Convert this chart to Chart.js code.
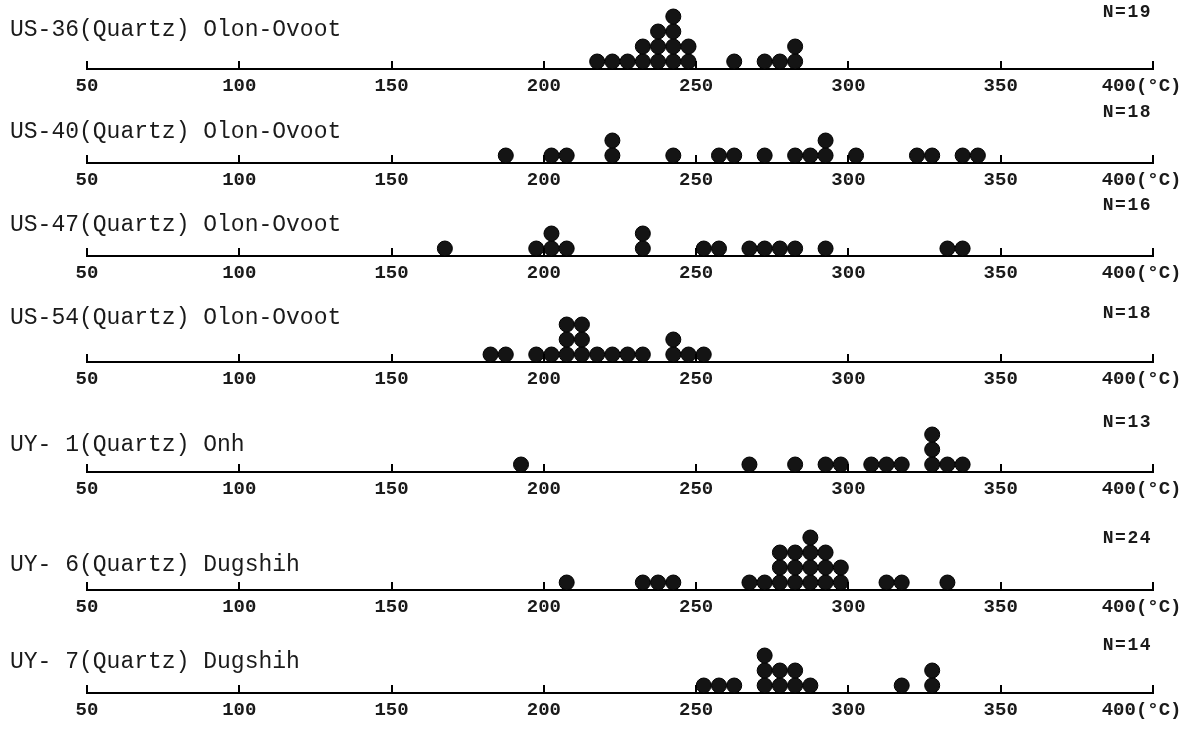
<!DOCTYPE html>
<html>

<head>
    <title>Homogenization temperatures</title>
    <script src="https://cdn.jsdelivr.net/npm/chart.js"></script>
    <style>
        body { margin: 0; background: #fff; }
        #wrap { position: relative; width: 1189px; height: 731px; overflow: hidden; background: #fff; }
        .row { position: absolute; left: 0; width: 1189px; height: 105px; }
        .label { position: absolute; left: 10px; font: 23px/23px 'Liberation Mono', monospace; color: #1a1a1a; white-space: pre; }
        .count { position: absolute; right: 37px; font: bold 18px/18px 'Liberation Mono', monospace; letter-spacing: 1.5px; color: #1a1a1a; white-space: pre; }
    </style>
</head>

<body>
    <div id="wrap"></div>

    <script>
        // ------------- Data (bin centres in °C, number of inclusions per bin) -------------
        const sampleNames = [
            'US-36(Quartz) Olon-Ovoot',
            'US-40(Quartz) Olon-Ovoot',
            'US-47(Quartz) Olon-Ovoot',
            'US-54(Quartz) Olon-Ovoot',
            'UY- 1(Quartz) Onh',
            'UY- 6(Quartz) Dugshih',
            'UY- 7(Quartz) Dugshih'
        ];
        const sampleN = [19, 18, 16, 18, 13, 24, 14];

        const us36Temps = [217.5, 222.5, 227.5, 232.5, 237.5, 242.5, 247.5, 262.5, 272.5, 277.5, 282.5];
        const us36Counts = [1, 1, 1, 2, 3, 4, 2, 1, 1, 1, 2];

        const us40Temps = [187.5, 202.5, 207.5, 222.5, 242.5, 257.5, 262.5, 272.5, 282.5, 287.5, 292.5, 302.5, 322.5, 327.5, 337.5, 342.5];
        const us40Counts = [1, 1, 1, 2, 1, 1, 1, 1, 1, 1, 2, 1, 1, 1, 1, 1];

        const us47Temps = [167.5, 197.5, 202.5, 207.5, 232.5, 252.5, 257.5, 267.5, 272.5, 277.5, 282.5, 292.5, 332.5, 337.5];
        const us47Counts = [1, 1, 2, 1, 2, 1, 1, 1, 1, 1, 1, 1, 1, 1];

        const us54Temps = [182.5, 187.5, 197.5, 202.5, 207.5, 212.5, 217.5, 222.5, 227.5, 232.5, 242.5, 247.5, 252.5];
        const us54Counts = [1, 1, 1, 1, 3, 3, 1, 1, 1, 1, 2, 1, 1];

        const uy1Temps = [192.5, 267.5, 282.5, 292.5, 297.5, 307.5, 312.5, 317.5, 327.5, 332.5, 337.5];
        const uy1Counts = [1, 1, 1, 1, 1, 1, 1, 1, 3, 1, 1];

        const uy6Temps = [207.5, 232.5, 237.5, 242.5, 267.5, 272.5, 277.5, 282.5, 287.5, 292.5, 297.5, 312.5, 317.5, 332.5];
        const uy6Counts = [1, 1, 1, 1, 1, 1, 3, 3, 4, 3, 2, 1, 1, 1];

        const uy7Temps = [252.5, 257.5, 262.5, 272.5, 277.5, 282.5, 287.5, 317.5, 327.5];
        const uy7Counts = [1, 1, 1, 3, 2, 2, 1, 1, 2];

        const xTicks = [50, 100, 150, 200, 250, 300, 350, 400];

        const allTemps = [us36Temps, us40Temps, us47Temps, us54Temps, uy1Temps, uy6Temps, uy7Temps];
        const allCounts = [us36Counts, us40Counts, us47Counts, us54Counts, uy1Counts, uy6Counts, uy7Counts];

        // ------------- Layout of the rows (px) -------------
        const axisY = [69, 163, 256, 362, 472, 590, 693];
        const labelY = [30, 132, 225, 318, 445, 565, 662];
        const countY = [12, 112, 205, 313, 422, 538, 645];

        // small upward tick marks on the axis line
        const upTicks = {
            id: 'upTicks',
            afterDraw(chart) {
                const xs = chart.scales.x;
                const ctx = chart.ctx;
                const bottom = chart.chartArea.bottom;
                ctx.save();
                ctx.strokeStyle = '#000';
                ctx.lineWidth = 2;
                xTicks.forEach(v => {
                    const px = Math.round(xs.getPixelForValue(v));
                    ctx.beginPath();
                    ctx.moveTo(px, bottom);
                    ctx.lineTo(px, bottom - 8);
                    ctx.stroke();
                });
                ctx.restore();
            }
        };

        const wrap = document.getElementById('wrap');

        sampleNames.forEach((name, i) => {
            const row = document.createElement('div');
            row.className = 'row';
            row.style.top = (axisY[i] - 75) + 'px';
            const canvas = document.createElement('canvas');
            canvas.width = 1189;
            canvas.height = 105;
            row.appendChild(canvas);
            wrap.appendChild(row);

            const label = document.createElement('div');
            label.className = 'label';
            label.style.top = (labelY[i] - 11) + 'px';
            label.textContent = name;
            wrap.appendChild(label);

            const count = document.createElement('div');
            count.className = 'count';
            count.style.top = (countY[i] - 9) + 'px';
            count.textContent = 'N=' + sampleN[i];
            wrap.appendChild(count);

            // stack the dots: one point per inclusion
            const points = [];
            allTemps[i].forEach((t, j) => {
                for (let k = 0; k < allCounts[i][j]; k++) {
                    points.push({ x: t, y: k + 0.5 });
                }
            });

            new Chart(canvas.getContext('2d'), {
                type: 'scatter',
                data: {
                    datasets: [{
                        data: points,
                        pointRadius: 7.5,
                        pointHoverRadius: 7.5,
                        backgroundColor: '#141414',
                        borderColor: '#000',
                        borderWidth: 1,
                        clip: false
                    }]
                },
                options: {
                    responsive: false,
                    animation: false,
                    events: [],
                    layout: {
                        autoPadding: false,
                        padding: { left: 87, right: 36, top: 0, bottom: 0 }
                    },
                    plugins: {
                        legend: { display: false },
                        tooltip: { enabled: false }
                    },
                    scales: {
                        x: {
                            type: 'linear',
                            min: 50,
                            max: 400,
                            grid: { display: false, drawTicks: false },
                            border: { display: true, color: '#000', width: 2 },
                            ticks: {
                                stepSize: 50,
                                autoSkip: false,
                                maxRotation: 0,
                                padding: 6,
                                color: '#1a1a1a',
                                font: { family: 'Liberation Mono', size: 19, weight: 'bold' },
                                callback: v => v === 400 ? '400(°C)  ' : String(v)
                            },
                            afterFit: s => {
                                s.height = 30;
                                s.paddingLeft = 0;
                                s.paddingRight = 0;
                            }
                        },
                        y: { display: false, min: 0, max: 5 }
                    }
                },
                plugins: [upTicks]
            });
        });
    </script>
</body>

</html>
